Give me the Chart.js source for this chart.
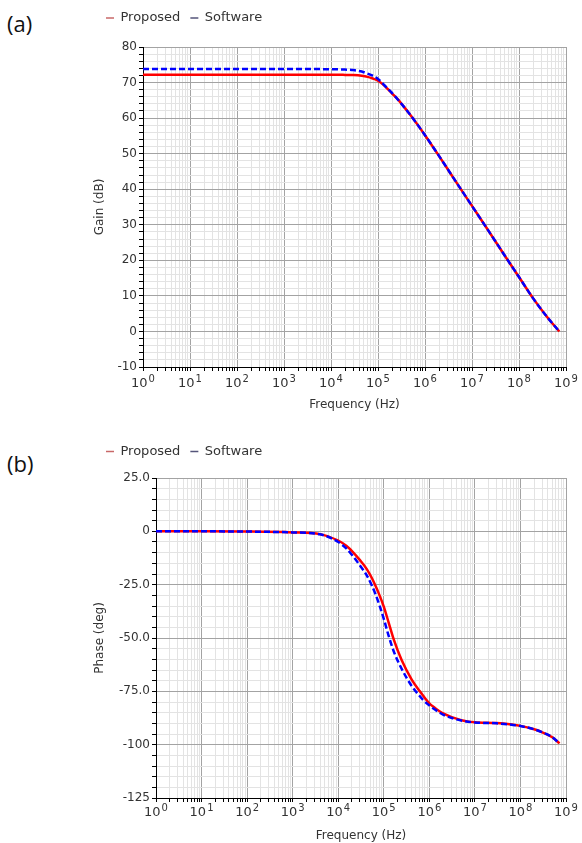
<!DOCTYPE html>
<html>
<head>
<meta charset="utf-8">
<script src="https://cdn.jsdelivr.net/npm/chart.js@4.4.0/dist/chart.umd.min.js"></script>
<style>
  body { margin: 0; background: #fff; width: 582px; height: 843px; position: relative; overflow: hidden; }
  .panel { position: absolute; left: 0; width: 582px; }
  .tag { position: absolute; left: 7px; font-family: "Open Sans", sans-serif; font-size: 22px; line-height: 30px; color: #111; }
</style>
</head>
<body>
<div class="tag" style="top:8px">(a)</div>
<div class="panel" style="top:0;height:412px"><canvas id="gainChart"></canvas></div>
<div class="tag" style="top:448px">(b)</div>
<div class="panel" style="top:430px;height:413px"><canvas id="phaseChart"></canvas></div>

<script>
// series names and legend swatch colours
var seriesNames = ['Proposed', 'Software'];
var legendColors = ['#c86868', '#55557a'];

// x axis decade labels: 10^0 .. 10^9
var decadeExponents = ['0', '1', '2', '3', '4', '5', '6', '7', '8', '9'];

// (a) gain, dB
var gainFreq = [1, 10, 100, 1e3, 1e4, 2e4, 3e4, 4.5e4, 6e4, 7.5e4, 1e5, 1.4e5, 2e5, 2.5e5, 3.5e5, 4.8e5, 7e5,
                1e6, 2e6, 5e6, 1e7, 2e7, 5e7, 1e8, 2e8, 4e8, 7.2e8];
var gainProposed = [72.2, 72.2, 72.2, 72.2, 72.2, 72.15, 72.1, 71.9, 71.6, 71.2, 70.5, 69.0, 66.9, 65.6, 63.3, 61.0, 58.1,
                    55.2, 49.3, 41.3, 35.3, 29.3, 21.3, 15.3, 9.3, 4.0, 0.0];
var gainSoftware = [73.8, 73.8, 73.8, 73.8, 73.75, 73.65, 73.5, 73.1, 72.5, 72.0, 71.0, 69.1, 67.0, 65.6, 63.3, 61.0, 58.1,
                    55.2, 49.3, 41.3, 35.3, 29.3, 21.3, 15.3, 9.3, 4.0, 0.0];

// (b) phase, degrees
var phaseFreq = [1, 10, 100, 1e3, 4e3, 1e4, 1.5e4, 2.1e4, 3e4, 4.2e4, 5.5e4, 6.5e4, 8e4, 1e5, 1.26e5, 1.66e5, 2.45e5,
                 4.1e5, 6.2e5, 7.4e5, 1e6, 1.3e6, 2e6, 5e6, 1e7, 3e7, 1e8, 2e8, 3e8, 5e8, 7.2e8];
var phaseProposed = [0, 0, -0.1, -0.5, -1.3, -4.3, -6.8, -9.7, -13.5, -17.6, -22, -25.3, -29.8, -35.3, -42.3, -50.8, -60.2,
                     -69.5, -75, -77.2, -80.6, -82.6, -85.3, -88.5, -89.5, -89.9, -91.2, -92.8, -94.2, -96.5, -99.4];
var phaseSoftware = [0, 0, -0.1, -0.5, -1.4, -5, -8, -11.6, -16, -20.5, -25.5, -29.2, -34.5, -41, -48.5, -56.3, -64.3,
                     -72.5, -77.3, -79.2, -81.6, -83.4, -85.9, -88.7, -89.6, -90, -91.3, -92.8, -94.2, -96.5, -99.4];

// y tick labels
var gainTicks = [-10, 0, 10, 20, 30, 40, 50, 60, 70, 80];
var phaseTicks = [25, 0, -25, -50, -75, -100, -125];
var phaseTickText = ['25.0', '0', '-25.0', '-50.0', '-75.0', '-100', '-125'];

var FONT = 'DejaVu Sans';
var MAJOR = '#a3a3a3';
var MINOR = '#e3e3e3';

function pairs(xs, ys) {
  var out = [];
  for (var i = 0; i < xs.length; i++) out.push({x: xs[i], y: ys[i]});
  return out;
}

// log ticks at 1..9 of every decade
function logTicks(scale) {
  var t = [];
  for (var e = 0; e < 9; e++) {
    for (var m = 1; m < 10; m++) t.push({value: m * Math.pow(10, e), major: m === 1});
  }
  t.push({value: 1e9, major: true});
  scale.ticks = t;
}

function linTicks(scale, lo, hi, step, majors) {
  var t = [];
  for (var v = lo; v <= hi; v += step) t.push({value: v, major: majors.indexOf(v) >= 0});
  scale.ticks = t;
}

// draws "10" with a raised exponent under each decade
var decadeLabelPlugin = {
  id: 'decadeLabels',
  afterDraw: function(chart, args, opts) {
    var ctx = chart.ctx;
    var xs = chart.scales.x;
    var y = chart.chartArea.bottom + opts.offset;
    ctx.save();
    ctx.fillStyle = '#333';
    ctx.textBaseline = 'alphabetic';
    ctx.textAlign = 'left';
    decadeExponents.forEach(function(ex, e) {
      var px = xs.getPixelForValue(Math.pow(10, e));
      ctx.font = '13px "' + FONT + '"';
      var wb = ctx.measureText('10').width;
      ctx.font = '10px "' + FONT + '"';
      var we = ctx.measureText(ex).width;
      var x0 = px - (wb + 1 + we) / 2;
      ctx.font = '13px "' + FONT + '"';
      ctx.fillText('10', x0, y);
      ctx.font = '10px "' + FONT + '"';
      ctx.fillText(ex, x0 + wb + 1, y - 5);
    });
    ctx.restore();
  }
};

function makeChart(id, xs, y1, y2, yOpts) {
  var ctx = document.getElementById(id);
  return new Chart(ctx, {
    type: 'line',
    data: {
      datasets: [{
        label: seriesNames[0],
        data: pairs(xs, y1),
        borderColor: '#ff0000',
        borderWidth: 2.5,
        pointRadius: 0,
        cubicInterpolationMode: 'monotone',
        order: 1
      }, {
        label: seriesNames[1],
        data: pairs(xs, y2),
        borderColor: '#0000ff',
        borderWidth: 2.5,
        borderDash: [6, 3],
        pointRadius: 0,
        cubicInterpolationMode: 'monotone',
        order: 0
      }]
    },
    plugins: [decadeLabelPlugin],
    options: {
      responsive: true,
      maintainAspectRatio: false,
      animation: false,
      layout: { padding: { left: 96, right: 16, top: yOpts.padTop, bottom: 0 } },
      plugins: {
        tooltip: { enabled: false },
        decadeLabels: { offset: yOpts.labelOffset },
        legend: {
          display: true,
          position: 'top',
          align: 'start',
          labels: {
            usePointStyle: true,
            pointStyle: 'line',
            pointStyleWidth: 8,
            padding: 10,
            color: '#333',
            font: { family: FONT, size: 13 },
            generateLabels: function(chart) {
              return chart.data.datasets.map(function(ds, i) {
                return { text: ds.label, strokeStyle: legendColors[i], fillStyle: legendColors[i],
                         lineWidth: 1.5, lineDash: [], pointStyle: 'line', datasetIndex: i, hidden: false, fontColor: '#333' };
              });
            }
          }
        },
        subtitle: {
          display: true,
          text: '',
          position: 'top',
          weight: 100,
          font: { size: 1, lineHeight: 1 },
          padding: { top: 0, bottom: yOpts.gap }
        }
      },
      scales: {
        x: {
          type: 'logarithmic',
          min: 1,
          max: 1e9,
          afterBuildTicks: logTicks,
          afterFit: function(s) { s.height = 45; },
          border: { color: '#000', width: 1 },
          grid: {
            color: function(c) { return c.tick && c.tick.major ? MAJOR : MINOR; },
            tickColor: '#000',
            tickLength: 4
          },
          ticks: {
            autoSkip: false,
            maxRotation: 0,
            callback: function() { return ''; }
          },
          title: { display: true, text: 'Frequency (Hz)', color: '#333', font: { family: FONT, size: 12 }, padding: { top: 2, bottom: 0 } }
        },
        y: {
          type: 'linear',
          min: yOpts.min,
          max: yOpts.max,
          afterBuildTicks: function(s) { linTicks(s, yOpts.min, yOpts.max, yOpts.step, yOpts.majors); },
          afterFit: function(s) { s.width = yOpts.axisWidth; },
          border: { color: '#000', width: 1 },
          grid: {
            color: function(c) { return c.tick && c.tick.major ? MAJOR : MINOR; },
            tickColor: '#000',
            tickLength: 4
          },
          ticks: {
            autoSkip: false,
            padding: 2,
            color: '#333',
            font: { family: FONT, size: 12 },
            callback: yOpts.label
          },
          title: { display: true, text: yOpts.title, color: '#333', font: { family: FONT, size: 12 }, padding: { top: -3, bottom: 0 } }
        }
      }
    }
  });
}

makeChart('gainChart', gainFreq, gainProposed, gainSoftware, {
  min: -10, max: 80, step: 2, majors: gainTicks, axisWidth: 47, padTop: 1.5, gap: 11.5, labelOffset: 20,
  title: 'Gain (dB)',
  label: function(v) { return gainTicks.indexOf(v) >= 0 ? String(v) : ''; }
});

makeChart('phaseChart', phaseFreq, phaseProposed, phaseSoftware, {
  min: -125, max: 25, step: 5, majors: phaseTicks, axisWidth: 60, padTop: 5, gap: 9, labelOffset: 17.5,
  title: 'Phase (deg)',
  label: function(v) { var k = phaseTicks.indexOf(v); return k >= 0 ? phaseTickText[k] : ''; }
});
</script>
</body>
</html>
